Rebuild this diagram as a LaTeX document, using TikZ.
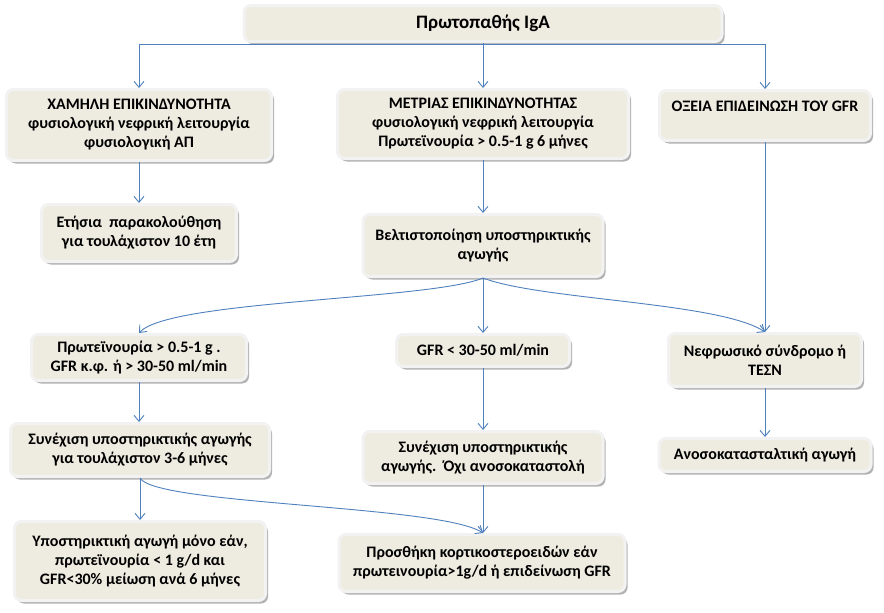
\documentclass[tikz,border=0pt]{standalone}
\usepackage{fontspec}
\setmainfont{Carlito}
\usetikzlibrary{shadows,arrows.meta}
\definecolor{boxfill}{HTML}{EEECE1}
\definecolor{boxedge}{HTML}{F2F2F2}
\definecolor{linkblue}{HTML}{4F81BD}
\begin{document}
\begin{tikzpicture}[x=1pt,y=-1pt,
  box/.style={rectangle, rounded corners=7pt, fill=boxfill, draw=boxedge, line width=3pt,
    drop shadow={shadow xshift=2.5pt, shadow yshift=-3pt, fill=black, opacity=0.3},
    align=center, inner sep=1pt,
    font=\fontsize{16}{19}\selectfont\bfseries},
  link/.style={draw=linkblue, line width=0.9pt, -{Straight Barb[length=6pt,width=10pt]}}]
\fill[white] (0,0) rectangle (884,613);
\useasboundingbox (0,0) rectangle (884,613);

\node[box, minimum width=478pt, minimum height=36pt, font=\fontsize{19}{22}\selectfont\bfseries] (top) at (483,23.5) {Πρωτοπαθής IgA};

\node[box, minimum width=265pt, minimum height=71pt] (l1a) at (139,125)
  {ΧΑΜΗΛΗ ΕΠΙΚΙΝΔΥΝΟΤΗΤΑ\\φυσιολογική νεφρική λειτουργία\\φυσιολογική ΑΠ};
\node[box, minimum width=291pt, minimum height=69pt] (l1b) at (483,124)
  {ΜΕΤΡΙΑΣ ΕΠΙΚΙΝΔΥΝΟΤΗΤΑΣ\\φυσιολογική νεφρική λειτουργία\\Πρωτεϊνουρία > 0.5-1 g 6 μήνες};
\node[box, minimum width=211pt, minimum height=50pt] (l1c) at (765,115.5)
  {ΟΞΕΙΑ ΕΠΙΔΕΙΝΩΣΗ ΤΟΥ GFR\\\mbox{}};

\node[box, minimum width=195pt, minimum height=57pt] (l2a) at (139,233)
  {Ετήσια\ \ παρακολούθηση\\για τουλάχιστον 10 έτη};
\node[box, minimum width=240pt, minimum height=62pt] (l2b) at (483,245.5)
  {Βελτιστοποίηση υποστηρικτικής\\αγωγής};

\node[box, minimum width=215pt, minimum height=46pt] (l3a) at (139,357.5)
  {Πρωτεϊνουρία > 0.5-1 g .\\GFR κ.φ. ή > 30-50 ml/min};
\node[box, minimum width=173pt, minimum height=32pt] (l3b) at (483,350.5)
  {GFR < 30-50 ml/min};
\node[box, minimum width=193pt, minimum height=53pt] (l3c) at (765,360)
  {Νεφρωσικό σύνδρομο ή\\ΤΕΣΝ};

\node[box, minimum width=259pt, minimum height=53pt] (l4a) at (140,450)
  {Συνέχιση υποστηρικτικής αγωγής\\για τουλάχιστον 3-6 μήνες};
\node[box, minimum width=240pt, minimum height=52pt] (l4b) at (483,457.5)
  {Συνέχιση υποστηρικτικής\\αγωγής.\ \ Όχι ανοσοκαταστολή};
\node[box, minimum width=212pt, minimum height=33pt] (l4c) at (765,455)
  {Ανοσοκατασταλτική αγωγή};

\node[box, minimum width=251pt, minimum height=79pt] (l5a) at (140,561)
  {Υποστηρικτική αγωγή μόνο εάν,\\πρωτεϊνουρία < 1 g/d και\\GFR<30\% μείωση ανά 6 μήνες};
\node[box, minimum width=286pt, minimum height=57pt] (l5b) at (482,563)
  {Προσθήκη κορτικοστεροειδών εάν\\πρωτεινουρία>1g/d ή επιδείνωση GFR};

% connectors
\draw[link] ([yshift=-1.5pt]top.south) -| (l1a.north);
\draw[link] ([yshift=-1.5pt]top.south) -| (l1c.north);
\draw[link] (top.south) -- (top.south |- l1b.north);

\draw[link] (l1a.south) -- (l1a.south |- l2a.north);
\draw[link] (l1b.south) -- (l1b.south |- l2b.north);
\draw[link] (l1c.south) -- (l1c.south |- l3c.north);

\draw[link] (l2b.south) .. controls +(-53,22) and +(30,-33) .. (l3a.north);
\draw[link] (l2b.south) -- (l2b.south |- l3b.north);
\draw[link] (l2b.south) .. controls +(57,22) and +(-45,-30) .. (l3c.north);

\draw[link] (l3a.south) -- (l3a.south |- l4a.north);
\draw[link] (l3b.south) -- (l3b.south |- l4b.north);
\draw[link] (l3c.south) -- (l3c.south |- l4c.north);

\draw[link] (l4a.south) -- (l4a.south |- l5a.north);
\draw[link] (l4a.south) .. controls +(15,27) and +(-43,-28) .. (l4b.south |- l5b.north);
\draw[link] (l4b.south) -- (l4b.south |- l5b.north);
\end{tikzpicture}
\end{document}
